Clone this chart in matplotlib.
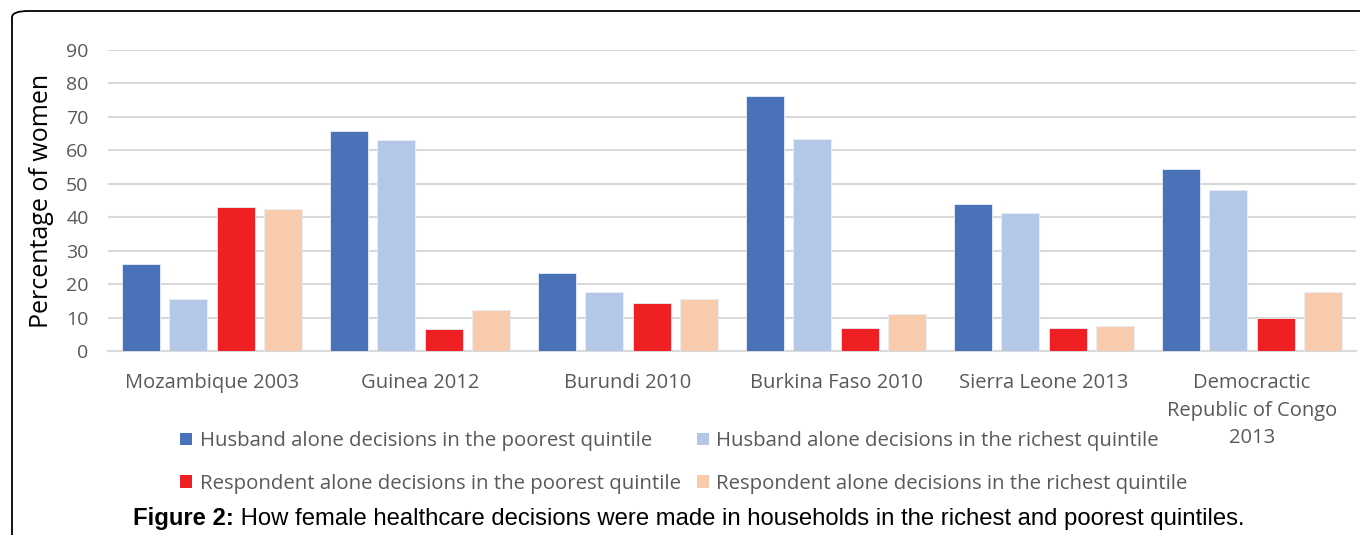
import matplotlib
matplotlib.use("Agg")
import matplotlib.pyplot as plt
import numpy as np
from matplotlib.patches import FancyBboxPatch, Patch

categories = ["Mozambique 2003", "Guinea 2012", "Burundi 2010", "Burkina Faso 2010",
              "Sierra Leone 2013", "Democractic\nRepublic of Congo\n2013"]
series_names = ["Husband alone decisions in the poorest quintile",
                "Husband alone decisions in the richest quintile",
                "Respondent alone decisions in the poorest quintile",
                "Respondent alone decisions in the richest quintile"]
husband_poorest = [26.0, 65.7, 23.2, 76.3, 43.9, 54.3]
husband_richest = [15.5, 63.1, 17.6, 63.3, 41.2, 48.1]
respondent_poorest = [43.1, 6.6, 14.3, 6.8, 7.0, 9.8]
respondent_richest = [42.5, 12.4, 15.6, 11.1, 7.5, 17.6]
yticks = [0, 10, 20, 30, 40, 50, 60, 70, 80, 90]

colors = ["#4A72B8", "#B4C7E7", "#EE2024", "#F8CBAD"]
series = [husband_poorest, husband_richest, respondent_poorest, respondent_richest]

plt.rcParams['font.family'] = ['Open Sans', 'DejaVu Sans']

W, H = 1360, 535
fig = plt.figure(figsize=(W / 100, H / 100), dpi=100)
ax = fig.add_axes([108 / W, 1 - 351 / H, (1356 - 108) / W, (351 - 50) / H])

x = np.arange(len(categories))
step = 0.229
width = 0.183
for i, (vals, c) in enumerate(zip(series, colors)):
    ax.bar(x + (i - 1.5) * step, vals, width=width, color=c,
           edgecolor="#E8EEF8", linewidth=0.6, zorder=3, label=series_names[i])

ax.set_xlim(-0.5, len(categories) - 0.5)
ax.set_ylim(0, 90)
ax.set_yticks(yticks)
ax.yaxis.grid(True, color="#D9D9D9", linewidth=1.5, zorder=0)
ax.set_axisbelow(True)
for s in ["top", "right", "left"]:
    ax.spines[s].set_visible(False)
ax.spines["bottom"].set_color("#D9D9D9")
ax.spines["bottom"].set_linewidth(1.5)
ax.tick_params(axis="both", length=0, labelsize=14, labelcolor="#595959")
ax.tick_params(axis="y", pad=14)
ax.tick_params(axis="x", pad=16)
ax.set_xticks(x)
ax.set_xticklabels(categories, linespacing=1.5, fontsize=14.5)
ax.set_ylabel("Percentage of women", fontsize=18, color="black", labelpad=9)

order = [0, 2, 1, 3]
handles = [Patch(facecolor=colors[i], edgecolor="none") for i in order]
labels = [series_names[i] for i in order]
fig.legend(handles, labels, ncol=2, loc="upper left",
           bbox_to_anchor=(170 / W, 1 - 421 / H), frameon=False,
           fontsize=14.7, labelcolor="#595959", handlelength=0.6, handleheight=0.6,
           handletextpad=0.35, columnspacing=0.8, labelspacing=1.1, borderpad=0)

# border
border = FancyBboxPatch((12 / W, -0.2), 1.2, 1 - 11 / H + 0.2,
                        boxstyle="round,pad=0,rounding_size=0.012",
                        transform=fig.transFigure, fill=False, edgecolor="black",
                        linewidth=1.3, clip_on=False)
fig.patches.append(border)

t1 = fig.text(133 / W, 1 - 530 / H, "Figure 2:", fontsize=17.2, fontweight="bold",
              family=["Liberation Sans", "DejaVu Sans"], va="bottom", ha="left")
ax.annotate(" How female healthcare decisions were made in households in the richest and poorest quintiles.",
            xy=(1, 0), xycoords=t1, va="bottom", ha="left", fontsize=17.2,
            family=["Liberation Sans", "DejaVu Sans"], annotation_clip=False)

fig.savefig("out.png", dpi=100)
